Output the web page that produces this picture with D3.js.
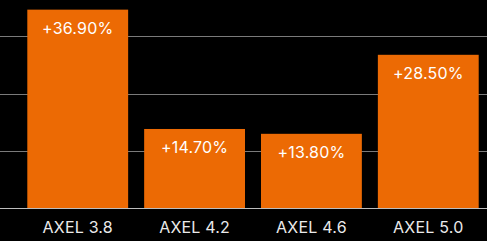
<!DOCTYPE html>
<html>
<head>
<meta charset="utf-8">
<script src="https://cdn.jsdelivr.net/npm/d3@7"></script>
<style>
  body { margin: 0; background: #000; }
  svg { display: block; }
</style>
</head>
<body>
<svg width="487" height="241"></svg>
<script>
var categories = ["AXEL 3.8", "AXEL 4.2", "AXEL 4.6", "AXEL 5.0"];
var values = [36.9, 14.7, 13.8, 28.5];
var labels = ["+36.90%", "+14.70%", "+13.80%", "+28.50%"];

var svg = d3.select("svg"),
    width = +svg.attr("width"),
    height = +svg.attr("height");

var x = d3.scaleBand()
    .domain(categories)
    .range([27.3, 478.7])
    .paddingInner(0.137)
    .paddingOuter(0);

var yMax = 42.6;
var y = d3.scaleLinear()
    .domain([0, yMax])
    .range([208, -21]);

// 4 even sections, gridlines between them
var gridVals = d3.range(1, 4).map(function(i) { return yMax / 4 * i; });

svg.append("g")
    .attr("class", "grid")
    .selectAll("line")
    .data(gridVals)
    .enter().append("line")
    .attr("x1", 0)
    .attr("x2", width)
    .attr("y1", function(d) { return Math.round(y(d)) + 0.5; })
    .attr("y2", function(d) { return Math.round(y(d)) + 0.5; })
    .attr("stroke", "#7a7a7a")
    .attr("stroke-width", 1);

svg.append("g")
    .selectAll("rect")
    .data(values)
    .enter().append("rect")
    .attr("x", function(d, i) { return x(categories[i]); })
    .attr("width", x.bandwidth())
    .attr("y", function(d) { return y(d); })
    .attr("height", function(d) { return y(0) - y(d); })
    .attr("fill", "#ec6a04");

svg.append("line")
    .attr("x1", 0)
    .attr("x2", width)
    .attr("y1", y(0) + 0.5)
    .attr("y2", y(0) + 0.5)
    .attr("stroke", "#bdbdbd");

svg.append("g")
    .selectAll("text")
    .data(values)
    .enter().append("text")
    .attr("x", function(d, i) { return x(categories[i]) + x.bandwidth() / 2; })
    .attr("y", function(d) { return y(d) + 24; })
    .attr("text-anchor", "middle")
    .attr("fill", "#fff")
    .style("font-family", "Inter, sans-serif")
    .style("font-size", "16px")
    .style("letter-spacing", "0.2px")
    .text(function(d, i) { return labels[i]; });

var xAxis = svg.append("g")
    .attr("transform", "translate(0," + y(0) + ")")
    .call(d3.axisBottom(x).tickSize(0).tickPadding(0));

xAxis.select(".domain").remove();
xAxis.selectAll("text")
    .attr("dy", null)
    .attr("y", 25)
    .attr("fill", "#eaeaea")
    .style("font-family", "Inter, sans-serif")
    .style("font-size", "16px")
    .style("letter-spacing", "0.2px");
</script>
</body>
</html>
